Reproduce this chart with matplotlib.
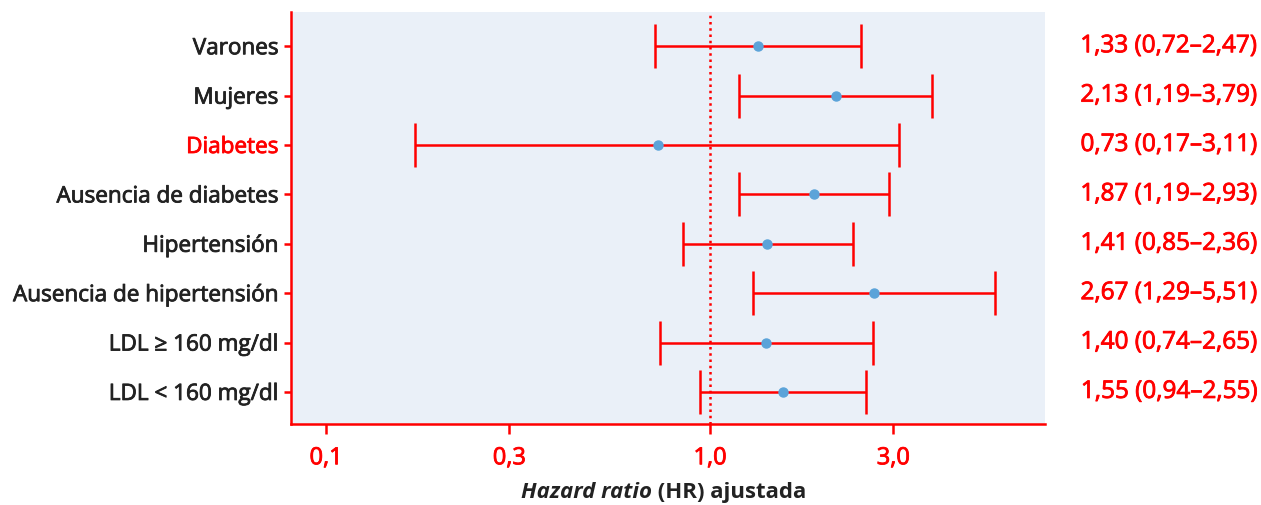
import matplotlib
matplotlib.use("Agg")
import matplotlib.pyplot as plt
import matplotlib.patheffects as pe
import numpy as np

labels = [
    "Varones",
    "Mujeres",
    "Diabetes",
    "Ausencia de diabetes",
    "Hipertensión",
    "Ausencia de hipertensión",
    "LDL ≥ 160 mg/dl",
    "LDL < 160 mg/dl",
]
hr = [1.33, 2.13, 0.73, 1.87, 1.41, 2.67, 1.40, 1.55]
ci_low = [0.72, 1.19, 0.17, 1.19, 0.85, 1.29, 0.74, 0.94]
ci_high = [2.47, 3.79, 3.11, 2.93, 2.36, 5.51, 2.65, 2.55]
xticks = [0.1, 0.3, 1.0, 3.0]

RED = "#ff0000"
DARK = "#222222"
BLUE = "#5ba3d9"

plt.rcParams["font.family"] = ["Open Sans", "DejaVu Sans"]


def fmt(v):
    return f"{v:.2f}".replace(".", ",")


def thicken(txt, color):
    # fake a "medium" weight with a thin outline in the text colour
    txt.set_path_effects([pe.withStroke(linewidth=0.6, foreground=color)])


def main():
    fig = plt.figure(figsize=(12.61, 5.06), dpi=100)
    ax = fig.add_axes([0.2308, 0.160, 0.5979, 0.814])
    ax.set_facecolor("#eaf0f8")

    y = np.arange(len(labels))
    hr_a = np.array(hr)
    err = np.vstack([hr_a - np.array(ci_low), np.array(ci_high) - hr_a])

    ax.axvline(1.0, color=RED, linestyle=(0, (1, 1.5)), linewidth=1.8, zorder=1)
    ax.errorbar(hr_a, y, xerr=err, fmt="none", ecolor=RED, elinewidth=1.8,
                capsize=15.8, capthick=1.8, zorder=2)
    ax.plot(hr_a, y, "o", color=BLUE, markersize=6.5, zorder=3)

    ax.set_xscale("log")
    ax.set_xlim(0.081, 7.45)
    ax.set_ylim(7.65, -0.69)

    ax.set_xticks(xticks)
    ax.set_xticklabels([f"{v:.1f}".replace(".", ",") for v in xticks])
    ax.xaxis.set_minor_locator(matplotlib.ticker.NullLocator())
    ax.set_yticks(y)
    ax.set_yticklabels(labels)

    ax.tick_params(axis="x", colors=RED, labelsize=17, length=7, width=1.8, pad=9)
    ax.tick_params(axis="y", color=RED, labelsize=16.2, length=5, width=1.8, pad=4)
    for lbl in ax.get_xticklabels():
        lbl.set_color(RED)
        thicken(lbl, RED)
    for lbl in ax.get_yticklabels():
        c = RED if lbl.get_text() == "Diabetes" else DARK
        lbl.set_color(c)
        thicken(lbl, c)

    for s in ["top", "right"]:
        ax.spines[s].set_visible(False)
    for s in ["left", "bottom"]:
        ax.spines[s].set_color(RED)
        ax.spines[s].set_linewidth(1.8)

    # right-hand HR (CI) column
    for yi, h, lo, hi in zip(y, hr, ci_low, ci_high):
        t = ax.annotate(f"{fmt(h)} ({fmt(lo)}–{fmt(hi)})", xy=(1.0, yi),
                        xycoords=("axes fraction", "data"), xytext=(1257 - 1045, 0),
                        textcoords="offset pixels", ha="right", va="center",
                        color=RED, fontsize=17.5)
        thicken(t, RED)

    # x label: italic part + regular part
    t1 = ax.text(0.479, -0.178, "Hazard ratio", transform=ax.transAxes,
                 ha="right", va="baseline", fontsize=16, fontweight="bold",
                 style="italic", color=DARK)
    ax.annotate(" (HR) ajustada", xy=(1, 0), xycoords=t1, va="bottom",
                ha="left", fontsize=16, fontweight="bold", color=DARK)

    fig.savefig("out.png", dpi=100)


if __name__ == "__main__":
    main()
